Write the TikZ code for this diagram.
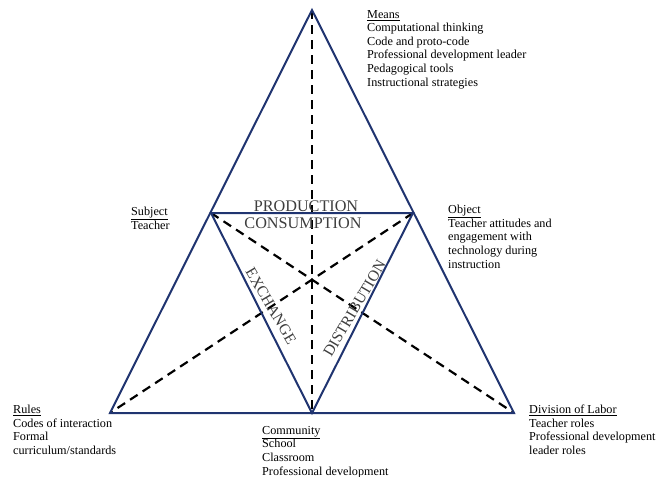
\documentclass[tikz,border=0pt]{standalone}
\usepackage{fontspec}
\setmainfont{Liberation Serif}
\usepackage{xcolor}
\usetikzlibrary{calc}
\definecolor{edgeblue}{RGB}{32,52,112}
\definecolor{labelgray}{RGB}{62,62,62}
\tikzset{
  side/.style={line width=2pt,edgeblue},
  spoke/.style={line width=2.2pt,dash pattern=on 9pt off 6pt},
  corner/.style={anchor=north west,align=left,inner sep=0pt,font=\fontsize{12.2}{13.6}\selectfont},
  flow/.style={inner sep=0pt,text=labelgray,font=\fontsize{16.2}{18}\selectfont}
}

\begin{document}
\begin{tikzpicture}[x=1pt,y=-1pt]
\useasboundingbox (0,0) rectangle (657,477);
% corners of the two triangles
\coordinate (M) at (312,10);
\coordinate (S) at (211,213);
\coordinate (O) at (413,213);
\coordinate (R) at (110,413);
\coordinate (C) at (312,413);
\coordinate (D) at (514,413);

\foreach \a/\b in {M/C,S/D,O/R}{\draw[spoke] (\a) -- (\b);}
\draw[side] (M) -- (R) -- (D) -- cycle;
\draw[side] (S) -- (O) -- (C) -- cycle;

% the four exchanges
\node[flow,anchor=base] (prod) at (306,211) {PRODUCTION};
\node[flow,anchor=base] (cons) at (303,228) {CONSUMPTION};
\node[flow,font=\fontsize{15.5}{18}\selectfont,rotate=-59.5] (exch) at (271,306) {EXCHANGE};
\node[flow,font=\fontsize{15.5}{18}\selectfont,rotate=59.5] (dist) at (354.5,308.5) {DISTRIBUTION};

% corner texts
\node[corner] (means) at (367,10) {\underline{Means}\\Computational thinking\\Code and proto-code\\Professional development leader\\Pedagogical tools\\Instructional strategies};
\node[corner] (subj) at (131,207) {\underline{Subject}\\Teacher};
\node[corner] (obj) at (448,205) {\underline{Object}\\Teacher attitudes and\\engagement with\\technology during\\instruction};
\node[corner] (rules) at (13,405) {\underline{Rules}\\Codes of interaction\\Formal\\curriculum/standards};
\node[corner] (comm) at (262,426) {\underline{Community}\\School\\Classroom\\Professional development};
\node[corner] (div) at (529,405) {\underline{Division of Labor}\\Teacher roles\\Professional development\\leader roles};
\end{tikzpicture}
\end{document}
